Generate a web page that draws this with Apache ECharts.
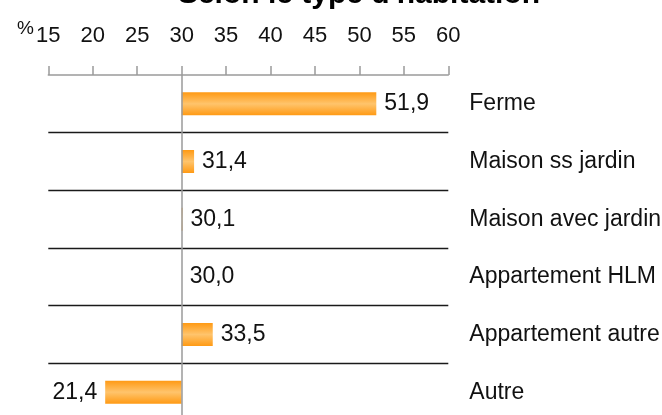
<!DOCTYPE html>
<html>
<head>
<meta charset="utf-8">
<script src="https://cdn.jsdelivr.net/npm/echarts@6/dist/echarts.min.js"></script>
<style>
  html, body { margin: 0; padding: 0; background: #fff; }
  #chart { width: 662px; height: 415px; }
</style>
</head>
<body>
<div id="chart"></div>
<script>
// categories top -> bottom
const categories = ['Ferme', 'Maison ss jardin', 'Maison avec jardin', 'Appartement HLM', 'Appartement autre', 'Autre'];
const values = [51.9, 31.4, 30.1, 30.0, 33.5, 21.4];
const baseline = 30;
const xTicks = { min: 15, max: 60, interval: 5 };
const titleText = "Selon le type d'habitation";

const FONT = '"Liberation Sans", Arial, sans-serif';

// bars grow from the 30 line: transparent part up to min(v,30), visible part = |v-30|
const hidden = values.map(v => Math.min(v, baseline));
const shown = values.map((v, i) => ({
  value: Math.abs(v - baseline),
  orig: v,
  label: { position: v < baseline ? 'left' : 'right' }
}));

const fmt = v => v.toFixed(1).replace('.', ',');

const chart = echarts.init(document.getElementById('chart'), null, { renderer: 'canvas' });

const option = {
  animation: false,
  textStyle: { fontFamily: FONT },
  grid: { left: 48.3, right: 213.7, top: 75, bottom: -6, containLabel: false, outerBoundsMode: 'none' },
  graphic: [
    {
      type: 'text', x: 359, y: 10,
      style: { text: titleText, align: 'center', verticalAlign: 'bottom',
        font: 'bold 30px "Liberation Sans", Arial, sans-serif', fill: '#000' }
    },
    {
      type: 'text', x: 17, y: 19,
      style: { text: '%', align: 'left', verticalAlign: 'top',
        font: '19px ' + FONT, fill: '#111' }
    }
  ],
  xAxis: {
    type: 'value',
    position: 'top',
    min: xTicks.min, max: xTicks.max, interval: xTicks.interval,
    axisLine: { show: true, lineStyle: { color: '#9a9a9a', width: 1.5 } },
    axisTick: { show: true, length: 9, lineStyle: { color: '#9a9a9a', width: 1.5 } },
    axisLabel: { margin: 28, fontSize: 22, color: '#111', fontFamily: FONT },
    splitLine: { show: false }
  },
  yAxis: {
    type: 'category',
    data: categories,
    inverse: true,
    position: 'right',
    axisLine: { show: false },
    axisTick: { show: false },
    axisLabel: { margin: 21, align: 'left', fontSize: 23, color: '#111', fontFamily: FONT },
    splitLine: {
      show: true,
      interval: (i) => i !== 0,
      lineStyle: { color: '#1a1a1a', width: 1.3 }
    }
  },
  series: [
    {
      type: 'bar', stack: 'a', barWidth: 23,
      data: hidden,
      itemStyle: { color: 'rgba(0,0,0,0)' },
      silent: true
    },
    {
      type: 'bar', stack: 'a', barWidth: 23,
      data: shown,
      itemStyle: {
        color: new echarts.graphic.LinearGradient(0, 0, 0, 1, [
          { offset: 0, color: '#ff9a14' },
          { offset: 0.5, color: '#ffc46c' },
          { offset: 1, color: '#ff9a14' }
        ])
      },
      label: {
        show: true,
        distance: 8,
        fontSize: 23,
        color: '#111',
        fontFamily: FONT,
        formatter: p => fmt(p.data.orig)
      },
      markLine: {
        silent: true,
        symbol: 'none',
        label: { show: false },
        lineStyle: { color: '#9a9a9a', width: 1.5, type: 'solid' },
        data: [{ xAxis: baseline }]
      }
    }
  ]
};

chart.setOption(option);
</script>
</body>
</html>
